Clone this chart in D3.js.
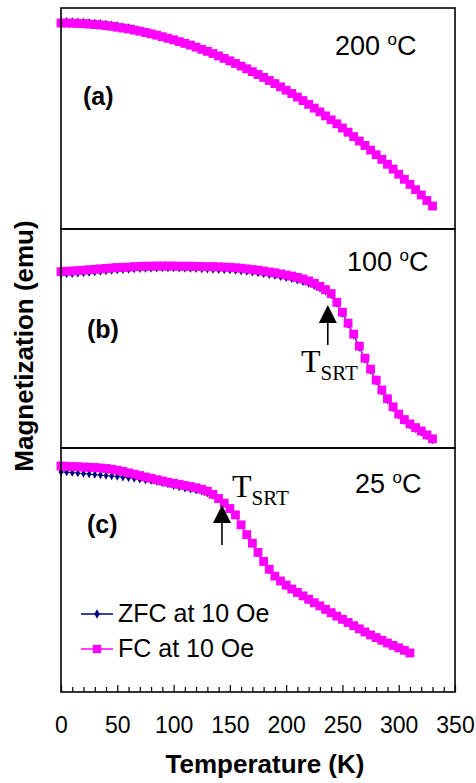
<!DOCTYPE html>
<html>
<head>
  <script src="https://d3js.org/d3.v7.min.js"></script>
  <style>
    body { margin: 0; background: #fff; }
    svg { display: block; }
    .frame { fill: none; stroke: #000; stroke-width: 1.6px; }
    .tick text { font-family: "Liberation Sans", Arial, sans-serif; font-size: 23px; fill: #000; }
    .tick line { stroke: #000; stroke-width: 1.2px; }
    .sans { font-family: "Liberation Sans", Arial, sans-serif; fill: #000; }
    .serif { font-family: "Liberation Serif", "Times New Roman", serif; fill: #000; }
  </style>
</head>
<body>
  <svg id="chart"></svg>
  <script>
    // temperatures (K)
    var tempsAB = [0,5,10,15,20,25,30,35,40,45,50,55,60,65,70,75,80,85,90,95,
      100,105,110,115,120,125,130,135,140,145,150,155,160,165,170,175,180,185,190,195,
      200,205,210,215,220,225,230,235,240,245,250,255,260,265,270,275,280,285,290,295,
      300,305,310,315,320,325,330];
    var tempsC = [0,5,10,15,20,25,30,35,40,45,50,55,60,65,70,75,80,85,90,95,
      100,105,110,115,120,125,130,135,140,145,150,155,160,165,170,175,180,185,190,195,
      200,205,210,215,220,225,230,235,240,245,250,255,260,265,270,275,280,285,290,295,
      300,305,310];

    // magnetization, arbitrary units (each panel 0..100)
    var fcA = [93.2,93.2,93.1,93.0,92.9,92.7,92.5,92.3,92.0,91.7,
      91.3,90.9,90.5,90.0,89.5,88.9,88.3,87.7,87.0,86.3,
      85.6,84.8,84.0,83.2,82.3,81.3,80.4,79.4,78.3,77.2,
      76.1,74.9,73.7,72.5,71.2,69.9,68.6,67.2,65.8,64.3,
      62.8,61.3,59.7,58.1,56.4,54.7,53.0,51.2,49.4,47.6,
      45.7,43.8,41.8,39.8,37.8,35.7,33.6,31.5,29.3,27.1,
      24.8,22.5,20.2,17.8,15.4,12.9,10.4];
    var zfcA = [94.0,94.0,93.9,93.8,93.7,93.5,93.3,93.1,92.8,92.5,
      92.1,91.6,91.2,90.6,90.0,89.4,88.7,88.0,87.3,86.5,
      85.6,84.8,84.0,83.2,82.3,81.3,80.4,79.4,78.3,77.2,
      76.1,74.9,73.7,72.5,71.2,69.9,68.6,67.2,65.8,64.3,
      62.8,61.3,59.7,58.1,56.4,54.7,53.0,51.2,49.4,47.6,
      45.7,43.8,41.8,39.8,37.8,35.7,33.6,31.5,29.3,27.1,
      24.8,22.5,20.2,17.8,15.4,12.9,10.4];

    var fcB = [80.5,80.7,80.8,81.0,81.2,81.4,81.6,81.8,82.0,82.2,
      82.4,82.5,82.6,82.8,82.9,83.0,83.0,83.1,83.1,83.1,
      83.1,83.0,83.0,83.0,82.9,82.9,82.8,82.8,82.7,82.6,
      82.5,82.3,82.1,81.8,81.5,81.2,80.8,80.4,80.0,79.5,
      79.0,78.5,77.9,77.2,76.3,75.2,73.8,72.3,70.5,66.5,
      62.0,57.0,52.0,46.5,41.0,36.0,31.0,26.5,22.5,18.8,
      15.5,13.0,11.0,9.3,7.8,6.0,4.2];
    var zfcB = [79.3,79.4,79.5,79.7,79.9,80.1,80.3,80.5,80.8,81.0,
      81.2,81.4,81.5,81.7,81.8,81.9,82.0,82.0,82.1,82.1,
      82.1,82.0,82.0,81.9,81.8,81.7,81.6,81.5,81.4,81.3,
      81.2,81.0,80.8,80.5,80.2,79.9,79.5,79.1,78.7,78.2,
      77.7,77.2,76.6,75.9,75.1,74.1,72.9,71.5,69.8,65.9,
      61.4,56.4,51.4,45.9,40.4,35.4,30.4,25.9,21.9,18.2,
      14.9,12.4,10.4,8.7,7.2,5.4,3.6];

    var fcC = [92.6,92.5,92.4,92.3,92.2,92.1,92.0,91.8,91.6,91.3,
      90.9,90.4,89.8,89.3,88.7,88.1,87.6,87.0,86.5,86.0,
      85.5,85.1,84.6,84.2,83.7,83.1,82.3,81.0,79.3,77.4,
      75.2,72.6,68.5,64.5,61.0,57.2,53.5,50.3,47.5,45.5,
      43.8,42.2,40.8,39.4,38.0,36.6,35.3,33.9,32.5,31.1,
      29.8,28.5,27.2,25.9,24.6,23.4,22.3,21.2,20.1,19.1,
      18.1,17.1,16.0];
    var zfcC = [90.2,90.1,89.9,89.7,89.5,89.3,89.1,88.9,88.7,88.5,
      88.3,88.0,87.8,87.5,87.2,86.9,86.6,86.2,85.7,85.2,
      84.5,84.0,83.5,83.1,82.7,82.2,81.5,80.5,79.1,77.2,
      75.0,72.4,68.3,64.3,60.8,57.0,53.3,50.1,47.3,45.3,
      43.6,42.0,40.6,39.2,37.8,36.4,35.1,33.7,32.3,30.9,
      29.6,28.3,27.0,25.7,24.4,23.2,22.1,21.0,19.9,18.9,
      17.9,16.9,15.8];

    var panelTags = ["(a)", "(b)", "(c)"];
    var annealTemps = ["200", "100", "25"];
    var tsrtK = [null, 237, 143];
    var xTicks = [0, 50, 100, 150, 200, 250, 300, 350];
    var seriesNames = ["ZFC at 10 Oe", "FC at 10 Oe"];

    var width = 476, height = 783;
    var left = 61, right = 455;

    var svg = d3.select("#chart")
      .attr("width", width)
      .attr("height", height);

    var x = d3.scaleLinear().domain([0, 350]).range([left, right]);

    var panels = [
      { top: 8,   bottom: 229, t: tempsAB, zfc: zfcA, fc: fcA,
        tag: [83, 105], anneal: [335, 55] },
      { top: 229, bottom: 448, t: tempsAB, zfc: zfcB, fc: fcB,
        tag: [87, 338], anneal: [347, 271], tsrt: [301, 372], arrow: [305, 345] },
      { top: 448, bottom: 692, t: tempsC, zfc: zfcC, fc: fcC,
        tag: [87, 533], anneal: [355, 493], tsrt: [232, 497], arrow: [505, 545] }
    ];

    panels.forEach(function(p, i) {
      var y = d3.scaleLinear().domain([0, 100]).range([p.bottom, p.top]);
      var g = svg.append("g");

      var zfcPts = p.t.map(function(t, k) { return [t, p.zfc[k]]; });
      var fcPts = p.t.map(function(t, k) { return [t, p.fc[k]]; });
      var line = d3.line()
        .x(function(d) { return x(d[0]); })
        .y(function(d) { return y(d[1]); });

      // ZFC first, FC drawn on top
      g.append("path").datum(zfcPts)
        .attr("d", line)
        .attr("fill", "none")
        .attr("stroke", "#000080")
        .attr("stroke-width", 1);
      g.selectAll(".zfc").data(zfcPts).enter().append("path")
        .attr("class", "zfc")
        .attr("transform", function(d) { return "translate(" + x(d[0]) + "," + y(d[1]) + ")"; })
        .attr("d", d3.symbol().type(d3.symbolDiamond).size(20))
        .attr("fill", "#000080");

      g.append("path").datum(fcPts)
        .attr("d", line)
        .attr("fill", "none")
        .attr("stroke", "#ff00ff")
        .attr("stroke-width", 1);
      g.selectAll(".fc").data(fcPts).enter().append("path")
        .attr("class", "fc")
        .attr("transform", function(d) { return "translate(" + x(d[0]) + "," + y(d[1]) + ")"; })
        .attr("d", d3.symbol().type(d3.symbolSquare).size(78))
        .attr("fill", "#ff00ff");

      g.append("rect")
        .attr("class", "frame")
        .attr("x", left).attr("y", p.top)
        .attr("width", right - left)
        .attr("height", p.bottom - p.top);

      g.append("text")
        .attr("class", "sans")
        .attr("x", p.tag[0]).attr("y", p.tag[1])
        .style("font-size", "25px")
        .style("font-weight", "bold")
        .text(panelTags[i]);

      var at = g.append("text")
        .attr("class", "sans")
        .attr("x", p.anneal[0]).attr("y", p.anneal[1])
        .style("font-size", "27px");
      at.append("tspan").text(annealTemps[i] + " ");
      at.append("tspan").attr("dy", -10).style("font-size", "17px").text("o");
      at.append("tspan").attr("dy", 10).text("C");

      if (p.tsrt) {
        var ts = g.append("text")
          .attr("class", "serif")
          .attr("x", p.tsrt[0]).attr("y", p.tsrt[1])
          .style("font-size", "32px");
        ts.append("tspan").text("T");
        ts.append("tspan").attr("dy", 8).style("font-size", "21px").text("SRT");

        var ax = x(tsrtK[i]);
        g.append("line")
          .attr("x1", ax).attr("x2", ax)
          .attr("y1", p.arrow[1]).attr("y2", p.arrow[0] + 14)
          .attr("stroke", "#000").attr("stroke-width", 1.6);
        g.append("path")
          .attr("d", "M" + ax + "," + p.arrow[0] + "L" + (ax - 9) + "," + (p.arrow[0] + 18) +
            "L" + (ax + 9) + "," + (p.arrow[0] + 18) + "Z")
          .attr("fill", "#000");
      }
    });

    // x axis on the bottom panel, ticks pointing inward
    var axis = svg.append("g")
      .attr("transform", "translate(0," + panels[2].bottom + ")")
      .call(d3.axisBottom(x)
        .tickValues(d3.range(0, 351, 10))
        .tickSizeInner(-5)
        .tickSizeOuter(0)
        .tickPadding(25)
        .tickFormat(function(d) { return xTicks.indexOf(d) >= 0 ? d : ""; }));
    axis.select(".domain").remove();
    axis.selectAll(".tick")
      .filter(function(d) { return d % 50 === 0; })
      .select("line").attr("y2", -7);

    svg.append("text")
      .attr("class", "sans")
      .attr("x", 265).attr("y", 773)
      .attr("text-anchor", "middle")
      .style("font-size", "26px")
      .style("font-weight", "bold")
      .text("Temperature (K)");

    svg.append("text")
      .attr("class", "sans")
      .attr("transform", "translate(33,346) rotate(-90)")
      .attr("text-anchor", "middle")
      .style("font-size", "26px")
      .style("font-weight", "bold")
      .text("Magnetization (emu)");

    // legend inside panel (c)
    var legend = svg.append("g");
    var legendColors = ["#000080", "#ff00ff"];
    var legendSymbols = [d3.symbol().type(d3.symbolDiamond).size(26), d3.symbol().type(d3.symbolSquare).size(70)];
    seriesNames.forEach(function(name, i) {
      var ly = 614 + i * 35;
      legend.append("line")
        .attr("x1", 81).attr("x2", 113)
        .attr("y1", ly).attr("y2", ly)
        .attr("stroke", legendColors[i]).attr("stroke-width", 1.5);
      legend.append("path")
        .attr("transform", "translate(97," + ly + ")")
        .attr("d", legendSymbols[i])
        .attr("fill", legendColors[i]);
      legend.append("text")
        .attr("class", "sans")
        .attr("x", 118).attr("y", ly + 8)
        .style("font-size", "25px")
        .text(name);
    });
  </script>
</body>
</html>
